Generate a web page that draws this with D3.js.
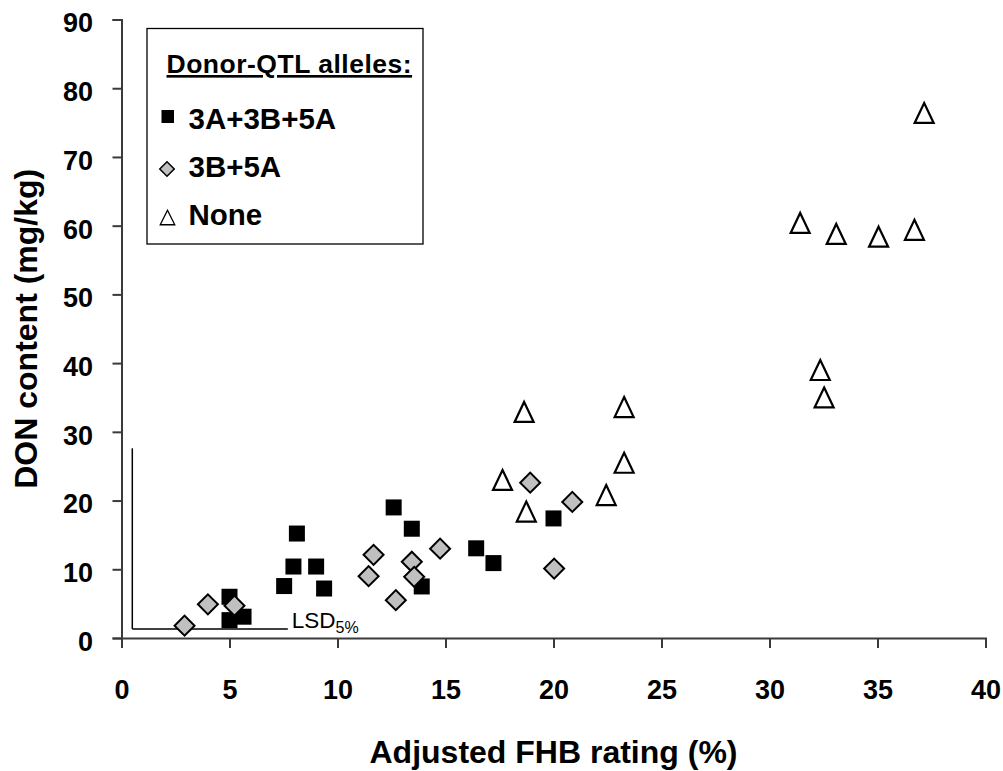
<!DOCTYPE html>
<html>
<head>
<meta charset="utf-8">
<script src="https://cdn.jsdelivr.net/npm/d3@7/dist/d3.min.js"></script>
<style>
  html, body { margin: 0; padding: 0; background: #fff; }
  svg { display: block; font-family: "Liberation Sans", Arial, sans-serif; }
</style>
</head>
<body>
<svg id="chart" width="1003" height="771"></svg>
<script>
// Adjusted FHB rating (%) vs DON content (mg/kg), grouped by donor-QTL alleles
const seriesNames = ["3A+3B+5A", "3B+5A", "None"];

const fhb3A3B5A = [5.0, 5.0, 5.65, 7.53, 7.96, 8.12, 9.01, 9.38, 12.6, 13.44, 13.9, 16.42, 17.22, 20.0];
const don3A3B5A = [6.0, 2.6, 3.1, 7.56, 10.4, 15.2, 10.4, 7.2, 19.0, 15.9, 7.5, 13.05, 10.9, 17.4];

const fhb3B5A = [2.92, 4.0, 5.23, 11.44, 11.67, 12.7, 13.44, 13.55, 14.75, 18.92, 20.87, 20.03];
const don3B5A = [1.8, 4.9, 4.7, 9.0, 12.1, 5.5, 11.1, 8.9, 13.0, 22.6, 19.8, 10.1];

const fhbNone = [17.64, 18.64, 18.74, 22.44, 23.27, 23.27, 31.42, 32.35, 32.53, 33.09, 35.05, 36.71, 37.16];
const donNone = [23.0, 32.9, 18.4, 20.8, 25.5, 33.6, 60.4, 39.0, 35.0, 58.8, 58.4, 59.4, 76.4];

const xTicks = [0, 5, 10, 15, 20, 25, 30, 35, 40];
const yTicks = [0, 10, 20, 30, 40, 50, 60, 70, 80, 90];

// LSD (5%) reference bars: origin and extent in data units
const lsdOrigin = [0.5, 1.3];
const lsdFHB = 7.2;
const lsdDON = 26.3;

const svg = d3.select("#chart");
const x = d3.scaleLinear().domain([0, 40]).range([121.5, 985.5]);
const y = d3.scaleLinear().domain([0, 90]).range([638, 19.5]);

const axisColor = "#3a3a3a";
const fontFamily = "Liberation Sans, Arial, sans-serif";

// Y axis
const yAxis = svg.append("g").attr("transform", "translate(121.5,0)")
  .call(d3.axisLeft(y).tickValues(yTicks).tickSize(9).tickPadding(19.5).tickFormat(d3.format("d")));
yAxis.select(".domain").attr("stroke", axisColor).attr("stroke-width", 2);
yAxis.selectAll(".tick line").attr("stroke", axisColor).attr("stroke-width", 2);
yAxis.selectAll(".tick text").attr("fill", "#000").attr("font-size", 27).attr("font-weight", "bold")
  .attr("font-family", fontFamily).attr("dy", "0.46em");

// X axis
const xAxis = svg.append("g").attr("transform", "translate(0,638)")
  .call(d3.axisBottom(x).tickValues(xTicks).tickSize(10).tickPadding(51).tickFormat(d3.format("d")));
xAxis.select(".domain").attr("stroke", axisColor).attr("stroke-width", 2);
xAxis.selectAll(".tick line").attr("stroke", axisColor).attr("stroke-width", 2);
xAxis.selectAll(".tick text").attr("fill", "#000").attr("font-size", 27).attr("font-weight", "bold")
  .attr("font-family", fontFamily).attr("dy", "0");

// Axis titles
svg.append("text")
  .attr("x", x(20)).attr("y", 763)
  .attr("text-anchor", "middle").attr("font-size", 32).attr("font-weight", "bold")
  .text("Adjusted FHB rating (%)");

svg.append("text")
  .attr("transform", `translate(37,${y(45)}) rotate(-90)`)
  .attr("text-anchor", "middle").attr("font-size", 32).attr("font-weight", "bold")
  .text("DON content (mg/kg)");

// LSD bars
const lsd = svg.append("g").attr("stroke", "#000").attr("stroke-width", 1.5).attr("fill", "none");
lsd.append("line")
  .attr("x1", x(lsdOrigin[0])).attr("x2", x(lsdOrigin[0]))
  .attr("y1", y(lsdOrigin[1])).attr("y2", y(lsdOrigin[1] + lsdDON));
lsd.append("line")
  .attr("x1", x(lsdOrigin[0])).attr("x2", x(lsdOrigin[0] + lsdFHB))
  .attr("y1", y(lsdOrigin[1])).attr("y2", y(lsdOrigin[1]));
const lsdText = svg.append("text")
  .attr("x", x(lsdOrigin[0] + lsdFHB) + 4).attr("y", y(lsdOrigin[1]) - 1)
  .attr("font-size", 22.5);
lsdText.append("tspan").text("LSD");
lsdText.append("tspan").attr("font-size", 16).attr("dy", 5).text("5%");

// Markers
const plot = svg.append("g");
const zip = (a, b) => a.map((v, i) => [v, b[i]]);

plot.selectAll("rect.sq").data(zip(fhb3A3B5A, don3A3B5A)).enter().append("rect")
  .attr("class", "sq")
  .attr("x", d => x(d[0]) - 8).attr("y", d => y(d[1]) - 8)
  .attr("width", 16).attr("height", 16).attr("fill", "#000");

const diamond = d3.symbol().type(d3.symbolSquare).size(200);
plot.selectAll("path.dm").data(zip(fhb3B5A, don3B5A)).enter().append("path")
  .attr("class", "dm")
  .attr("d", diamond)
  .attr("transform", d => `translate(${x(d[0])},${y(d[1])}) rotate(45)`)
  .attr("fill", "#c0c0c0").attr("stroke", "#000").attr("stroke-width", 2);

const tri = (cx, cy, w, h) => `M${cx},${cy - h / 2}L${cx + w / 2},${cy + h / 2}L${cx - w / 2},${cy + h / 2}Z`;
plot.selectAll("path.tr").data(zip(fhbNone, donNone)).enter().append("path")
  .attr("class", "tr")
  .attr("d", d => tri(x(d[0]), y(d[1]), 19, 20))
  .attr("fill", "#fff").attr("stroke", "#000").attr("stroke-width", 2.2).attr("stroke-linejoin", "miter");

// Legend
const lg = svg.append("g");
lg.append("rect").attr("x", 147).attr("y", 28.5).attr("width", 276).attr("height", 215.5)
  .attr("fill", "#fff").attr("stroke", "#000").attr("stroke-width", 1.3);
lg.append("text").attr("x", 166.5).attr("y", 73).attr("font-size", 26.5).attr("font-weight", "bold")
  .attr("letter-spacing", 0.5)
  .attr("text-decoration", "underline").text("Donor-QTL alleles:");

const rowY = [116.5, 169, 217.5];
const rowBase = [129, 176.5, 225];
lg.append("rect").attr("x", 161.5).attr("y", rowY[0] - 6.5).attr("width", 12.5).attr("height", 13).attr("fill", "#000");
lg.append("path").attr("d", d3.symbol().type(d3.symbolSquare).size(105))
  .attr("transform", `translate(167,${rowY[1]}) rotate(45)`)
  .attr("fill", "#c0c0c0").attr("stroke", "#000").attr("stroke-width", 1.5);
lg.append("path").attr("d", tri(167.5, rowY[2], 14.5, 14.5))
  .attr("fill", "#fff").attr("stroke", "#000").attr("stroke-width", 1.3);

lg.selectAll("text.item").data(seriesNames).enter().append("text")
  .attr("class", "item")
  .attr("x", 188.5).attr("y", (d, i) => rowBase[i])
  .attr("font-size", 29.5).attr("font-weight", "bold")
  .text(d => d);
</script>
</body>
</html>
